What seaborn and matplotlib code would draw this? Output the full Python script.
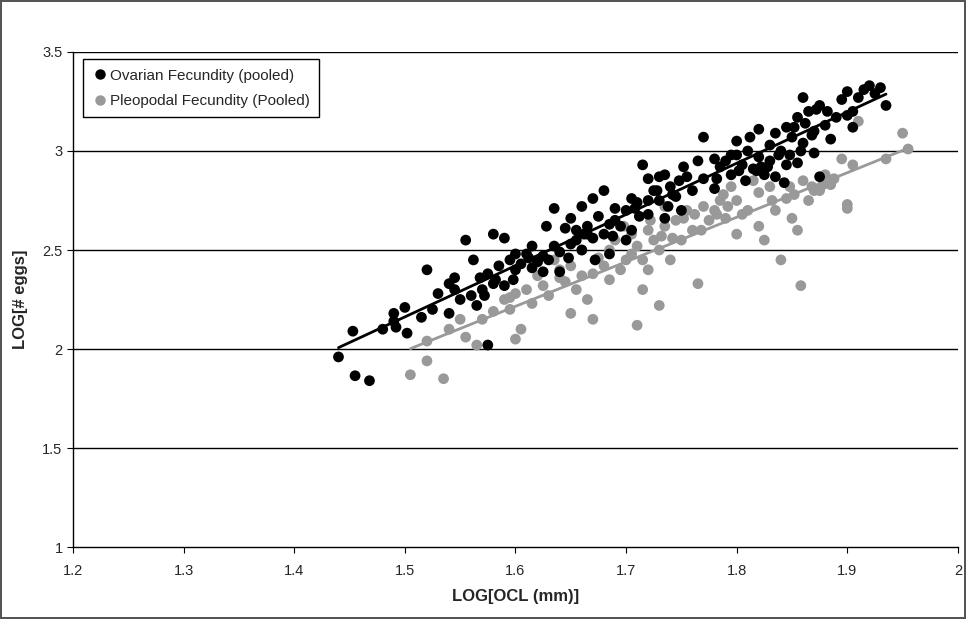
import numpy as np
import pandas as pd
import matplotlib
matplotlib.use("Agg")
import matplotlib.pyplot as plt
from matplotlib.lines import Line2D
import seaborn as sns

# Ovarian fecundity (pooled): log OCL vs log eggs
ovarian_x = [1.440, 1.455, 1.468, 1.453, 1.480, 1.490, 1.490, 1.492, 1.500, 1.502,
             1.515, 1.520, 1.525, 1.530, 1.540, 1.545, 1.540, 1.550, 1.555, 1.560,
             1.565, 1.570, 1.575, 1.575, 1.580, 1.580, 1.585, 1.590, 1.590, 1.595,
             1.600, 1.600, 1.605, 1.610, 1.615, 1.620, 1.625, 1.630, 1.635, 1.635,
             1.640, 1.640, 1.645, 1.650, 1.650, 1.655, 1.660, 1.660, 1.665, 1.670,
             1.670, 1.675, 1.680, 1.680, 1.685, 1.690, 1.695, 1.700, 1.700, 1.705,
             1.710, 1.712, 1.715, 1.720, 1.720, 1.720, 1.725, 1.730, 1.730, 1.735,
             1.740, 1.745, 1.750, 1.755, 1.760, 1.765, 1.770, 1.770, 1.780, 1.780,
             1.790, 1.795, 1.800, 1.800, 1.805, 1.810, 1.815, 1.820, 1.820, 1.825,
             1.830, 1.830, 1.835, 1.835, 1.840, 1.845, 1.850, 1.855, 1.855, 1.860,
             1.860, 1.865, 1.870, 1.870, 1.875, 1.880, 1.885, 1.890, 1.895, 1.900,
             1.905, 1.910, 1.915, 1.920, 1.925, 1.930, 1.935, 1.900, 1.875, 1.845,
             1.812, 1.795, 1.785, 1.748, 1.738, 1.728, 1.708, 1.688, 1.662, 1.648,
             1.628, 1.612, 1.598, 1.568, 1.562, 1.828, 1.858, 1.868, 1.838, 1.818,
             1.735, 1.742, 1.752, 1.782, 1.802, 1.808, 1.822, 1.848, 1.852, 1.862,
             1.872, 1.882, 1.905, 1.843, 1.690, 1.705, 1.665, 1.655, 1.685, 1.625,
             1.615, 1.582, 1.572, 1.545, 1.672]
ovarian_y = [1.96, 1.865, 1.84, 2.09, 2.10, 2.14, 2.18, 2.11, 2.21, 2.08,
             2.16, 2.40, 2.20, 2.28, 2.33, 2.30, 2.18, 2.25, 2.55, 2.27,
             2.22, 2.30, 2.38, 2.02, 2.58, 2.33, 2.42, 2.56, 2.32, 2.45,
             2.48, 2.40, 2.43, 2.48, 2.41, 2.44, 2.39, 2.45, 2.71, 2.52,
             2.49, 2.39, 2.61, 2.66, 2.53, 2.55, 2.72, 2.50, 2.62, 2.56,
             2.76, 2.67, 2.80, 2.58, 2.48, 2.65, 2.62, 2.70, 2.55, 2.60,
             2.74, 2.67, 2.93, 2.86, 2.75, 2.68, 2.80, 2.87, 2.75, 2.66,
             2.82, 2.77, 2.70, 2.87, 2.80, 2.95, 3.07, 2.86, 2.81, 2.96,
             2.95, 2.88, 2.98, 3.05, 2.93, 3.00, 2.91, 3.11, 2.97, 2.88,
             3.03, 2.95, 3.09, 2.87, 3.00, 2.93, 3.07, 3.17, 2.94, 3.27,
             3.04, 3.20, 2.99, 3.10, 3.23, 3.13, 3.06, 3.17, 3.26, 3.30,
             3.20, 3.27, 3.31, 3.33, 3.29, 3.32, 3.23, 3.18, 2.87, 3.12,
             3.07, 2.98, 2.92, 2.85, 2.72, 2.80, 2.71, 2.57, 2.58, 2.46,
             2.62, 2.46, 2.35, 2.36, 2.45, 2.92, 3.00, 3.08, 2.98, 2.90,
             2.88, 2.78, 2.92, 2.86, 2.90, 2.85, 2.92, 2.98, 3.12, 3.14,
             3.21, 3.20, 3.12, 2.84, 2.71, 2.76, 2.58, 2.60, 2.63, 2.47,
             2.52, 2.35, 2.27, 2.36, 2.45]

# Pleopodal fecundity (pooled)
pleo_x = [1.505, 1.520, 1.520, 1.535, 1.540, 1.550, 1.555, 1.565, 1.570, 1.580,
          1.590, 1.595, 1.600, 1.600, 1.605, 1.610, 1.620, 1.625, 1.630, 1.635,
          1.640, 1.645, 1.650, 1.650, 1.655, 1.660, 1.665, 1.670, 1.670, 1.675,
          1.680, 1.685, 1.690, 1.695, 1.700, 1.705, 1.710, 1.710, 1.715, 1.720,
          1.720, 1.725, 1.730, 1.730, 1.735, 1.740, 1.745, 1.750, 1.755, 1.760,
          1.765, 1.770, 1.775, 1.780, 1.785, 1.790, 1.795, 1.800, 1.800, 1.810,
          1.815, 1.820, 1.820, 1.825, 1.830, 1.835, 1.840, 1.845, 1.850, 1.855,
          1.858, 1.860, 1.865, 1.870, 1.875, 1.880, 1.885, 1.895, 1.900, 1.900,
          1.905, 1.910, 1.935, 1.950, 1.955, 1.698, 1.732, 1.762, 1.792, 1.848,
          1.595, 1.615, 1.640, 1.660, 1.685, 1.705, 1.715, 1.742, 1.752, 1.768,
          1.782, 1.788, 1.805, 1.832, 1.852, 1.868, 1.878, 1.888, 1.722, 1.735]
pleo_y = [1.87, 1.94, 2.04, 1.85, 2.10, 2.15, 2.06, 2.02, 2.15, 2.19,
          2.25, 2.20, 2.05, 2.28, 2.10, 2.30, 2.37, 2.32, 2.27, 2.45,
          2.40, 2.34, 2.18, 2.42, 2.30, 2.50, 2.25, 2.15, 2.38, 2.46,
          2.42, 2.35, 2.55, 2.40, 2.45, 2.58, 2.12, 2.52, 2.30, 2.60,
          2.40, 2.55, 2.22, 2.50, 2.62, 2.45, 2.65, 2.55, 2.70, 2.60,
          2.33, 2.72, 2.65, 2.70, 2.75, 2.66, 2.82, 2.58, 2.75, 2.70,
          2.85, 2.62, 2.79, 2.55, 2.82, 2.70, 2.45, 2.76, 2.66, 2.60,
          2.32, 2.85, 2.75, 2.80, 2.80, 2.88, 2.83, 2.96, 2.73, 2.71,
          2.93, 3.15, 2.96, 3.09, 3.01, 2.62, 2.57, 2.68, 2.72, 2.82,
          2.26, 2.23, 2.36, 2.37, 2.50, 2.48, 2.45, 2.56, 2.66, 2.60,
          2.68, 2.78, 2.68, 2.75, 2.78, 2.82, 2.83, 2.86, 2.65, 2.72]

x_ticks = [1.2, 1.3, 1.4, 1.5, 1.6, 1.7, 1.8, 1.9, 2.0]
x_labels = ["1.2", "1.3", "1.4", "1.5", "1.6", "1.7", "1.8", "1.9", "2"]
y_ticks = [1.0, 1.5, 2.0, 2.5, 3.0, 3.5]
y_labels = ["1", "1.5", "2", "2.5", "3", "3.5"]

ovarian = pd.DataFrame({"ocl": ovarian_x, "eggs": ovarian_y})
pleo = pd.DataFrame({"ocl": pleo_x, "eggs": pleo_y})

BLACK = "#000000"
GREY = "#999999"

sns.set_style("white")
plt.rcParams["font.family"] = ["Liberation Sans", "DejaVu Sans"]

fig = plt.figure(figsize=(9.66, 6.19), dpi=100)
fig.patch.set_edgecolor("#555555")
fig.patch.set_linewidth(1.5)
ax = fig.add_axes([0.0756, 0.1163, 0.916, 0.7997])

# horizontal gridlines
for yv in y_ticks[1:]:
    ax.axhline(yv, color="black", lw=1.0, zorder=0)

sns.regplot(data=pleo, x="ocl", y="eggs", ax=ax, ci=None, truncate=True,
            scatter_kws=dict(s=60, color=GREY, alpha=1, edgecolor="none", zorder=2),
            line_kws=dict(color=GREY, lw=2, zorder=3))
sns.regplot(data=ovarian, x="ocl", y="eggs", ax=ax, ci=None, truncate=True,
            scatter_kws=dict(s=60, color=BLACK, alpha=1, edgecolor="none", zorder=4),
            line_kws=dict(color=BLACK, lw=2, zorder=5))

ax.set_xlim(1.2, 2.0)
ax.set_ylim(1.0, 3.5)
ax.set_xticks(x_ticks)
ax.set_xticklabels(x_labels)
ax.set_yticks(y_ticks)
ax.set_yticklabels(y_labels)
ax.tick_params(axis="both", labelsize=10.5, direction="out", length=4,
               width=0.8, color="black", bottom=True, left=True)
ax.tick_params(axis="x", pad=8)
for side in ["top", "right"]:
    ax.spines[side].set_visible(False)
for side in ["left", "bottom"]:
    ax.spines[side].set_color("black")
    ax.spines[side].set_linewidth(1.0)

ax.set_xlabel("LOG[OCL (mm)]", fontsize=12, fontweight="bold", labelpad=8)
ax.set_ylabel("LOG[# eggs]", fontsize=12, fontweight="bold", labelpad=10)

handles = [
    Line2D([], [], marker="o", ls="", color=BLACK, markersize=6.5),
    Line2D([], [], marker="o", ls="", color=GREY, markersize=6.5),
]
leg = ax.legend(handles, ["Ovarian Fecundity (pooled)", "Pleopodal Fecundity (Pooled)"],
                loc="upper left", bbox_to_anchor=(0.011, 0.985), fontsize=11,
                frameon=True, fancybox=False, framealpha=1, edgecolor="black",
                handletextpad=0.2, handlelength=1.0, borderpad=0.6, labelspacing=0.75,
                borderaxespad=0)
leg.get_frame().set_linewidth(1.0)

fig.savefig("out.png", dpi=100)
